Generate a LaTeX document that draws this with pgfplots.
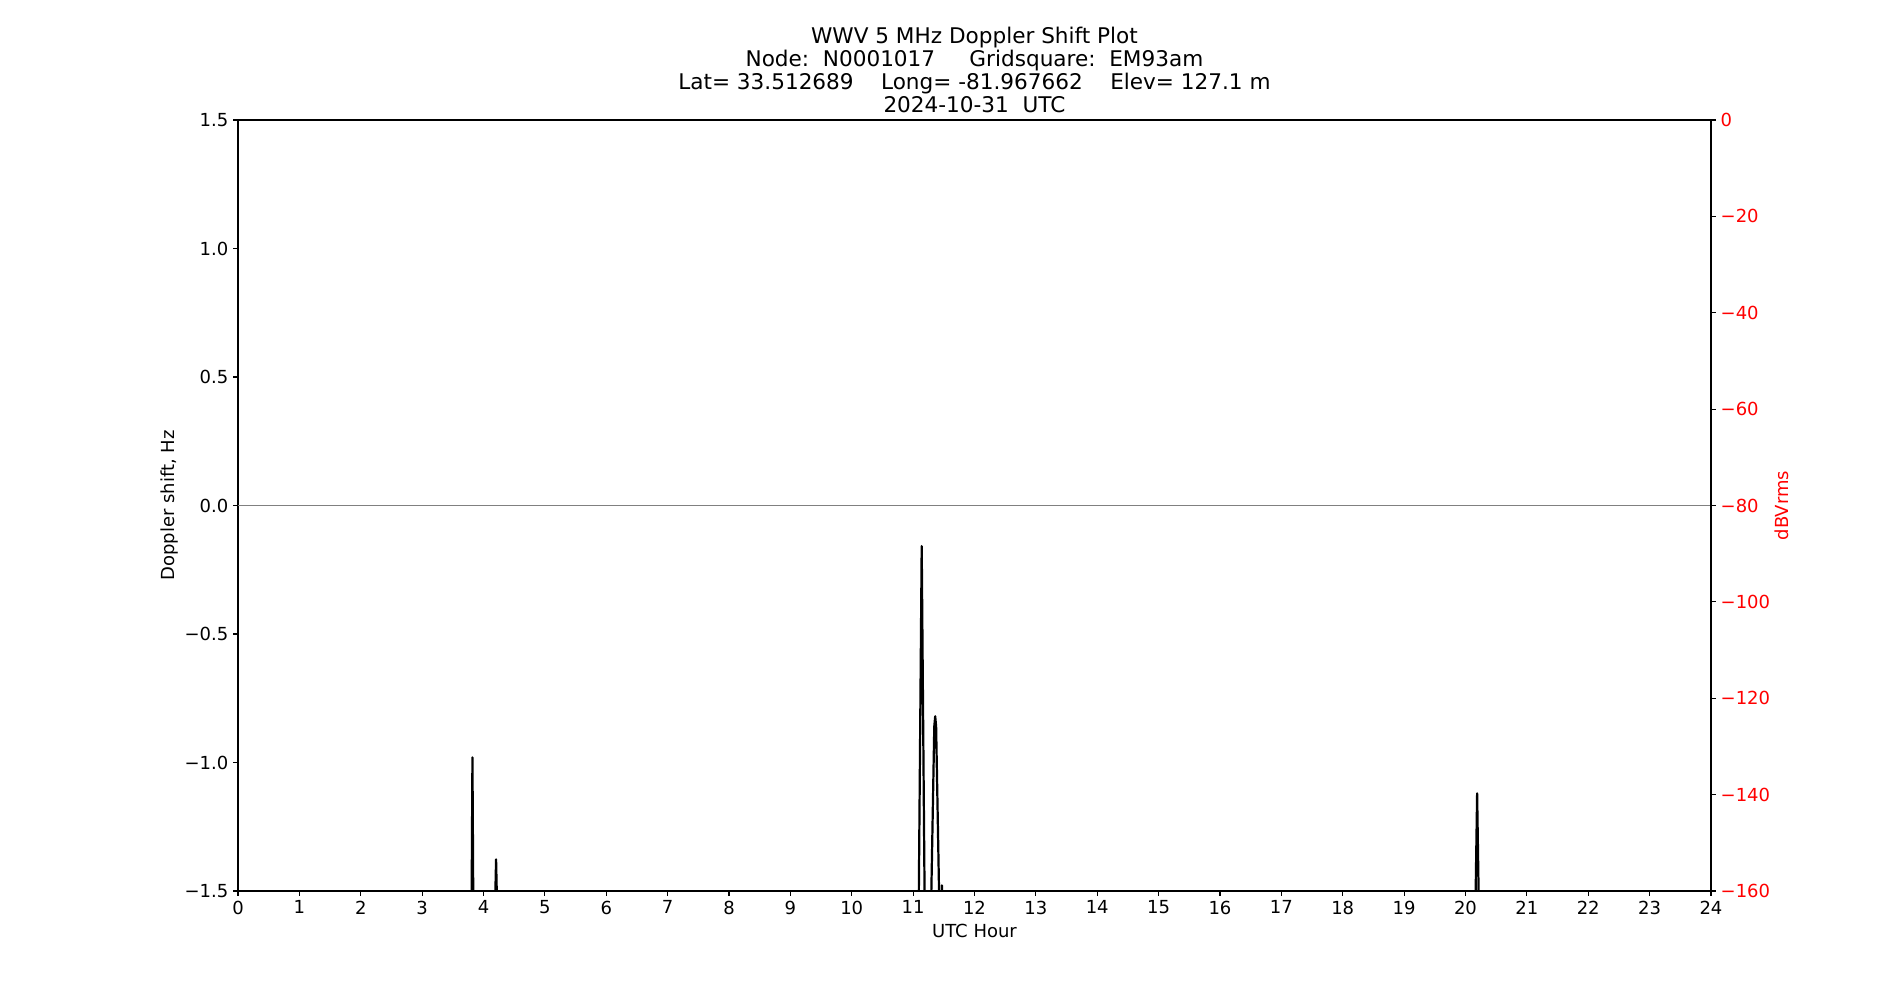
\documentclass[border=0pt]{standalone}
\usepackage{fontspec}
\setmainfont{DejaVu Sans}
\usepackage{pgfplots}
\pgfplotsset{compat=1.18}
\definecolor{zeroline}{RGB}{128,128,128}

\begin{document}
\begin{tikzpicture}
\pgfplotsset{
  every axis/.append style={
    width=14.73in, height=7.71in, scale only axis,
    xmin=0, xmax=24,
    tick align=outside, major tick length=3.5pt,
    tick style={black, line width=0.8pt},
    axis line style={line width=0.8pt},
    font=\fontsize{13}{15.6}\selectfont,
    /pgf/number format/assume math mode=true,
  }
}
\begin{axis}[
    at={(0,0)}, anchor=south west,
    ymin=-1.5, ymax=1.5,
    xtick={0,1,...,24}, xtick pos=bottom,
    ytick={-1.5,-1,-0.5,0,0.5,1,1.5}, ytick pos=left,
    yticklabels={−1.5,−1.0,−0.5,0.0,0.5,1.0,1.5},
    xlabel={UTC Hour},
    ylabel={Doppler shift, Hz},
    xlabel style={at={(axis description cs:0.5,-0.0515)}, anchor=center},
    ylabel style={at={(axis description cs:-0.0466,0.5)}, anchor=center},
    title={WWV 5 MHz Doppler Shift Plot\\
           Node:~~N0001017~~~~~Gridsquare:~~EM93am\\
           Lat=~33.512689~~~~Long=~-81.967662~~~~Elev=~127.1~m\\
           2024-10-31~~UTC},
    title style={font=\fontsize{15.6}{16.6}\selectfont, align=center,
                 at={(axis description cs:0.5,1)}, anchor=south,
                 inner sep=0pt, yshift=-1.2pt},
  ]
  \coordinate (bbsw) at (rel axis cs:0,0);
  \addplot[zeroline, line width=0.8pt] coordinates {(0,0) (24,0)};
  \addplot[black, line width=1.6pt, line join=round] coordinates {
    (0,-2) (3.80,-2) (3.805,-1.6) (3.82,-0.98) (3.835,-1.6) (3.84,-2)
    (4.18,-2) (4.185,-1.6) (4.205,-1.377) (4.225,-1.6) (4.23,-2)
    (11.08,-2) (11.09,-1.6) (11.14,-0.158) (11.19,-1.6) (11.20,-2)
    (11.28,-2) (11.29,-1.6) (11.345,-0.86) (11.36,-0.82) (11.375,-0.86) (11.43,-1.6) (11.44,-2)
    (11.46,-2) (11.465,-1.6) (11.47,-1.478) (11.475,-1.6) (11.48,-2)
    (20.15,-2) (20.16,-1.6) (20.19,-1.12) (20.22,-1.6) (20.23,-2)
    (24,-2)
  };
\end{axis}
\begin{axis}[
    at={(0,0)}, anchor=south west,
    ymin=-160, ymax=0,
    hide x axis, axis y line*=right,
    ytick={-160,-140,-120,-100,-80,-60,-40,-20,0},
    yticklabels={−160,−140,−120,−100,−80,−60,−40,−20,0},
    yticklabel style={text=red},
    ylabel={dBVrms},
    ylabel style={text=red, at={(axis description cs:1.0484,0.5)}, anchor=center},
  ]
\end{axis}
\path ([shift={(-2.38in,-1.09in)}]bbsw) rectangle ++(19in,10in);
\end{tikzpicture}
\end{document}
